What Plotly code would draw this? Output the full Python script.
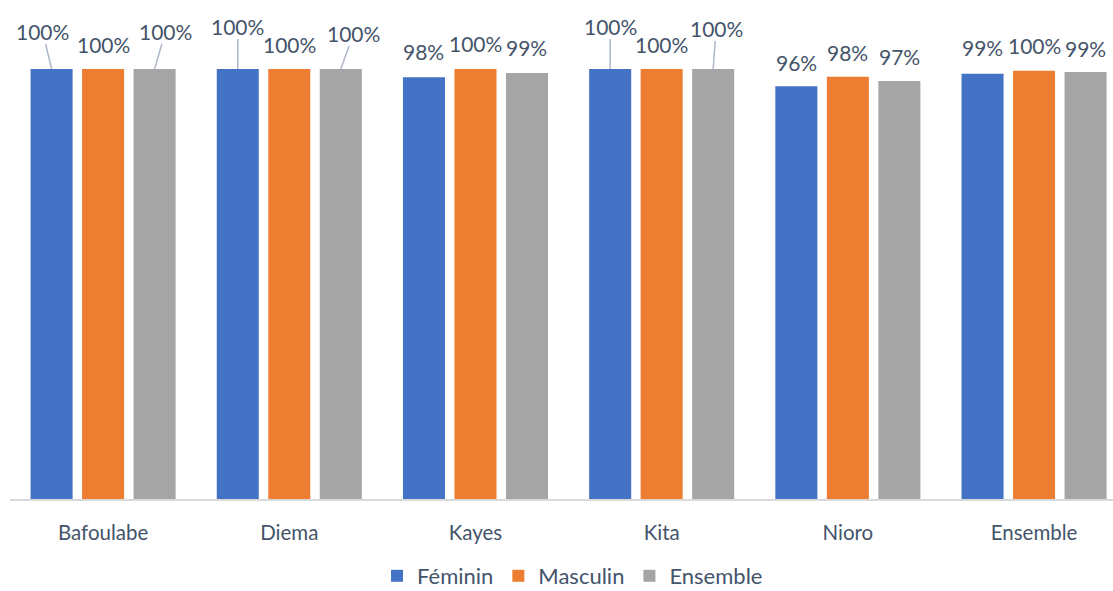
import plotly.graph_objects as go

categories = ["Bafoulabe", "Diema", "Kayes", "Kita", "Nioro", "Ensemble"]
series_names = ["Féminin", "Masculin", "Ensemble"]
feminin = [100, 100, 98.1, 100, 96.0, 98.9]
masculin = [100, 100, 100, 100, 98.2, 99.6]
ensemble = [100, 100, 99.1, 100, 97.2, 99.3]
series_values = [feminin, masculin, ensemble]
colors = ["#4472C4", "#ED7D31", "#A5A5A5"]

# label placement style (pixel offsets of label centre from bar top), and leader-line flags
label_dx = [[-9, 0, 0, 0, 0, 0], [0, 0, 0, 0, 0, 0], [11, 13, 0, 3, 0, 0]]
label_dy = [[-38, -43, -26, -43, -24, -26], [-25, -25, -26, -25, -24, -25], [-38, -36, -25, -41, -25, -24]]
leader = [[1, 1, 0, 1, 0, 0], [0, 0, 0, 0, 0, 0], [1, 1, 0, 1, 0, 0]]

text_color = "#44546A"
font_family = "Lato, 'Open Sans', sans-serif"

bargap = 0.17
bargroupgap = 0.184
slot = (1 - bargap) / 3

xs = list(range(len(categories)))
fig = go.Figure()
for name, vals, col in zip(series_names, series_values, colors):
    fig.add_trace(go.Bar(x=xs, y=vals, name=name, marker=dict(color=col, line=dict(width=0))))

annotations = []
for s, vals in enumerate(series_values):
    off = (s - 1) * slot
    for i, v in enumerate(vals):
        txt = f"{round(v)}%"
        if leader[s][i]:
            annotations.append(dict(
                x=i + off, y=v, xref="x", yref="y", text=txt, showarrow=True,
                ax=label_dx[s][i], ay=label_dy[s][i], arrowhead=0, arrowwidth=1.5,
                arrowcolor="#ADB9CA", standoff=0, startstandoff=0,
                font=dict(size=21, color=text_color, family=font_family),
                borderpad=0))
        else:
            annotations.append(dict(
                x=i + off, y=v, xref="x", yref="y", text=txt, showarrow=False,
                xanchor="center", yanchor="middle",
                xshift=label_dx[s][i], yshift=-label_dy[s][i],
                font=dict(size=21, color=text_color, family=font_family)))

fig.update_layout(
    width=1113, height=591,
    margin=dict(l=10, r=0, t=0, b=92, autoexpand=False),
    paper_bgcolor="white", plot_bgcolor="white",
    barmode="group", bargap=bargap, bargroupgap=bargroupgap,
    font=dict(family=font_family, color=text_color, size=20),
    xaxis=dict(
        tickmode="array", tickvals=xs, ticktext=categories,
        range=[-0.5, 5.424], showgrid=False, zeroline=False, automargin=False,
        showline=True, linecolor="#D9D9D9", linewidth=1.5,
        ticks="outside", ticklen=15, tickcolor="rgba(0,0,0,0)",
        tickfont=dict(size=20.5, color=text_color, family=font_family)),
    yaxis=dict(range=[0, 116.05], visible=False, automargin=False),
    showlegend=True,
    legend=dict(orientation="h", x=0.51, xanchor="center", y=-0.1964, yanchor="bottom",
                font=dict(size=22, color=text_color, family=font_family),
                itemwidth=30, tracegroupgap=0),
    annotations=annotations,
)

fig.write_html("out.html", config={"displayModeBar": False},
               post_script="document.body.style.margin='0';")
